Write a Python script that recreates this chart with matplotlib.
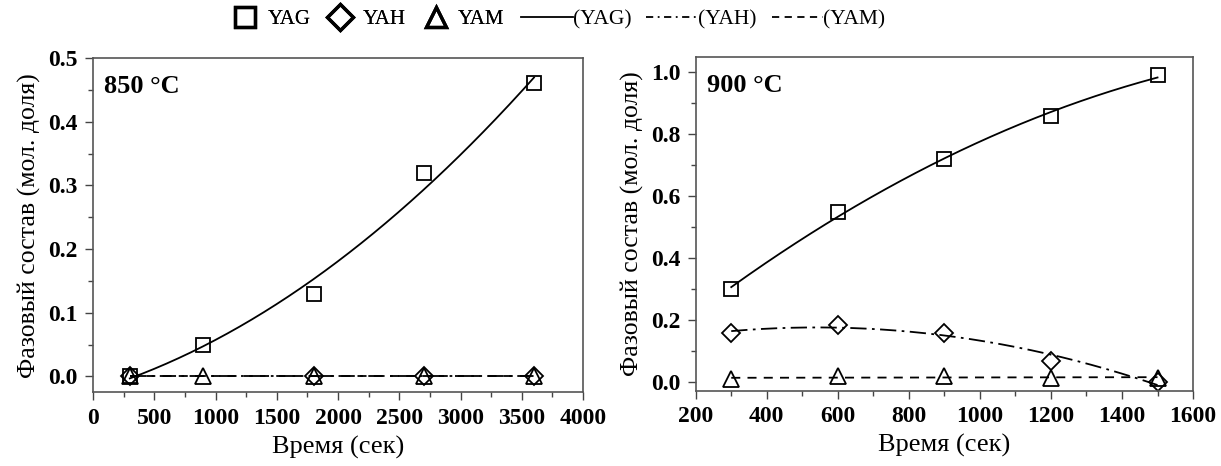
import numpy as np
import matplotlib
matplotlib.use("Agg")
import matplotlib.pyplot as plt
from matplotlib.lines import Line2D
from matplotlib.ticker import FormatStrFormatter

plt.rcParams['font.family'] = ['Liberation Serif', 'DejaVu Serif']

# ---- data: 850 °C ----
t850 = [300, 900, 1800, 2700, 3600]
yag850 = [0.0, 0.05, 0.13, 0.32, 0.46]
yah850 = [0.0, None, 0.0, 0.0, 0.0]
yam850 = [0.0, 0.0, 0.0, 0.0, 0.0]

# ---- data: 900 °C ----
t900 = [300, 600, 900, 1200, 1500]
yag900 = [0.30, 0.55, 0.72, 0.86, 0.99]
yah900 = [0.16, 0.185, 0.16, 0.07, 0.0]
yam900 = [0.01, 0.02, 0.02, 0.015, 0.015]

marker_labels = ['YAG', 'YAH', 'YAM']
line_labels = ['(YAG)', '(YAH)', '(YAM)']
temps = ['850 °C', '900 °C']
xlabel = 'Время (сек)'
ylabel = 'Фазовый состав (мол. доля)'


def clean(t, y):
    pts = [(a, b) for a, b in zip(t, y) if b is not None]
    return np.array([p[0] for p in pts], float), np.array([p[1] for p in pts], float)


def fit(t, y, deg=2, n=200):
    x, v = clean(t, y)
    c = np.polyfit(x, v, deg)
    xs = np.linspace(x.min(), x.max(), n)
    return xs, np.polyval(c, xs)


fig = plt.figure(figsize=(12.21, 4.66), dpi=100)
ax1 = fig.add_axes([0.0762, 0.158, 0.4013, 0.7175])
ax2 = fig.add_axes([0.5698, 0.162, 0.4073, 0.716])

DASHDOT = (0, (9, 3, 1.5, 3))
DASH = (0, (5, 4))

def mk(marker, size):
    return dict(linestyle='none', marker=marker, markerfacecolor='none',
                markeredgecolor='black', markeredgewidth=1.3, markersize=size)

def draw(ax, t, yag, yah, yam, temp):
    xs, ys = fit(t, yag)
    ax.plot(xs, ys, color='black', lw=1.3, ls='-')
    xs, ys = fit(t, yah)
    ax.plot(xs, ys, color='black', lw=1.3, ls=DASHDOT)
    xs, ys = fit(t, yam, deg=1)
    ax.plot(xs, ys, color='black', lw=1.3, ls=DASH)
    x, v = clean(t, yag); ax.plot(x, v, **mk('s', 10))
    x, v = clean(t, yah); ax.plot(x, v, **mk('D', 9))
    x, v = clean(t, yam); ax.plot(x, v, **mk('^', 11))
    ax.text(0.022, 0.948, temp, transform=ax.transAxes, fontsize=19,
            fontweight='bold', va='top', ha='left')
    ax.set_xlabel(xlabel, fontsize=19, labelpad=5)
    ax.set_ylabel(ylabel, fontsize=18.5, labelpad=5)
    ax.tick_params(which='both', direction='out', labelsize=17, color='#444444')
    ax.tick_params(which='major', length=6, width=1.0, pad=5)
    ax.tick_params(which='minor', length=3.5, width=1.0)
    for s in ax.spines.values():
        s.set_color('#555555')
        s.set_linewidth(1.2)

draw(ax1, t850, yag850, yah850, yam850, temps[0])
draw(ax2, t900, yag900, yah900, yam900, temps[1])

ax1.set_xlim(0, 4000)
ax1.set_ylim(-0.025, 0.5)
ax1.set_xticks(np.arange(0, 4001, 500))
ax1.set_xticks(np.arange(0, 4001, 250), minor=True)
ax1.set_yticks(np.arange(0, 0.51, 0.1))
ax1.set_yticks(np.arange(0, 0.51, 0.05), minor=True)
ax1.yaxis.set_major_formatter(FormatStrFormatter('%.1f'))

ax2.set_xlim(200, 1600)
ax2.set_ylim(-0.026, 1.05)
ax2.set_xticks(np.arange(200, 1601, 200))
ax2.set_xticks(np.arange(200, 1601, 100), minor=True)
ax2.set_yticks(np.arange(0, 1.01, 0.2))
ax2.set_yticks(np.arange(0, 1.01, 0.1), minor=True)
ax2.yaxis.set_major_formatter(FormatStrFormatter('%.1f'))

for ax in (ax1, ax2):
    for lab in ax.get_xticklabels() + ax.get_yticklabels():
        lab.set_fontweight('bold')

# legend: markers
mh = [Line2D([], [], **{**mk('s', 14), 'markeredgewidth': 2.4}),
      Line2D([], [], **{**mk('D', 13), 'markeredgewidth': 2.4}),
      Line2D([], [], **{**mk('^', 15), 'markeredgewidth': 2.4})]
leg1 = fig.legend(mh, marker_labels, loc='center', bbox_to_anchor=(0.303, 0.958),
                  ncol=3, frameon=False, fontsize=15, handlelength=0.9,
                  handletextpad=0.6, columnspacing=1.0, borderpad=0,
                  borderaxespad=0)
lh = [Line2D([], [], color='black', lw=1.3, ls='-'),
      Line2D([], [], color='black', lw=1.3, ls=(0, (4, 2.5, 1, 2.5))),
      Line2D([], [], color='black', lw=1.3, ls=(0, (4, 3)))]
leg2 = fig.legend(lh, line_labels, loc='center', bbox_to_anchor=(0.576, 0.958),
                  ncol=3, frameon=False, fontsize=15.5, handlelength=2.4,
                  handletextpad=0.0, columnspacing=0.7, borderpad=0,
                  borderaxespad=0)
fig.add_artist(leg1)

fig.savefig('out.png', dpi=100)
